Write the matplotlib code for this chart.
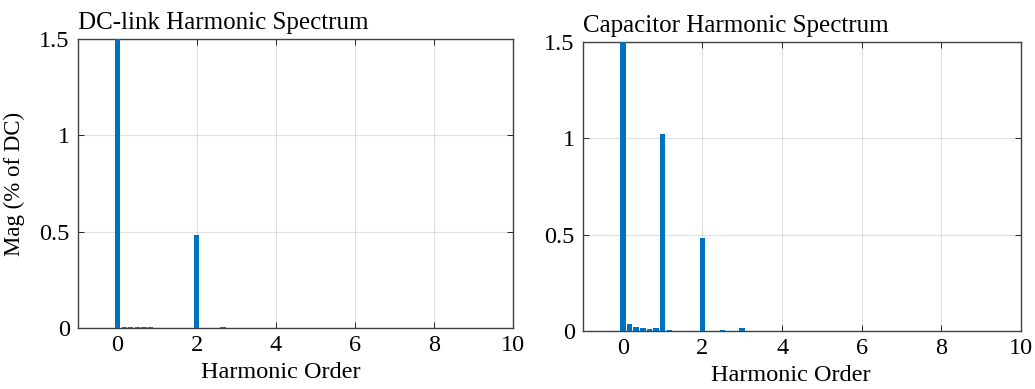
import matplotlib
matplotlib.use("Agg")
import matplotlib.pyplot as plt

# Harmonic orders and magnitudes (% of DC) for the DC-link current spectrum
dc_orders = [0.0, 0.17, 0.33, 0.5, 0.67, 0.83, 1.0, 1.33, 1.67, 2.0, 2.33, 2.67, 3.33, 4.0, 5.5, 7.5]
dc_mag = [100.0, 0.004, 0.003, 0.004, 0.007, 0.003, 0.002, 0.002, 0.002, 0.485, 0.002, 0.003, 0.001, 0.002, 0.001, 0.001]

# Harmonic orders and magnitudes (% of DC) for the capacitor current spectrum
cap_orders = [0.0, 0.17, 0.33, 0.5, 0.67, 0.83, 1.0, 1.17, 1.33, 1.67, 2.0, 2.17, 2.5, 2.67, 3.0, 3.17, 4.0, 5.5, 7.5]
cap_mag = [100.0, 0.035, 0.02, 0.015, 0.012, 0.015, 1.02, 0.004, 0.002, 0.002, 0.485, 0.002, 0.004, 0.002, 0.018, 0.002, 0.002, 0.001, 0.002]

x_ticks = [0, 2, 4, 6, 8, 10]
y_ticks = [0, 0.5, 1, 1.5]
y_tick_labels = ["0", "0.5", "1", "1.5"]

BAR_COLOR = "#0072BD"
FONT = "Liberation Serif"

W, H = 1035, 389
fig = plt.figure(figsize=(W / 100, H / 100), dpi=100)
plt.rcParams["font.family"] = FONT


def spectrum_axes(rect, orders, mags, title, ylabel=None, xlabel_shift=0.0):
    ax = fig.add_axes(rect)
    ax.bar(orders, mags, width=0.14, color=BAR_COLOR, linewidth=0, zorder=3)
    ax.set_xlim(-1, 10)
    ax.set_ylim(0, 1.5)
    ax.set_xticks(x_ticks)
    ax.set_yticks(y_ticks)
    ax.set_yticklabels(y_tick_labels)
    ax.grid(True, color="#000000", alpha=0.12, linewidth=0.8, zorder=0)
    ax.tick_params(direction="in", top=True, right=True, length=4,
                   width=0.7, color="#262626", labelsize=17.5)
    ax.tick_params(axis="x", pad=5)
    ax.tick_params(axis="y", pad=6)
    for s in ax.spines.values():
        s.set_color("#404040")
        s.set_linewidth(1.0)
    ax.set_title(title, loc="left", fontsize=18, pad=7, fontfamily=FONT)
    ax.set_xlabel("Harmonic Order", fontsize=17.5, fontfamily=FONT, va="top")
    ax.xaxis.set_label_coords(0.5 + xlabel_shift, -0.118)
    if ylabel:
        ax.set_ylabel(ylabel, fontsize=16.5, labelpad=10, fontfamily=FONT)
    return ax


spectrum_axes([78 / W, (H - 328) / H, 435 / W, 289 / H], dc_orders, dc_mag,
              "DC-link Harmonic Spectrum", ylabel="Mag (% of DC)", xlabel_shift=-0.035)
spectrum_axes([583 / W, (H - 331) / H, 438 / W, 289 / H], cap_orders, cap_mag,
              "Capacitor Harmonic Spectrum", xlabel_shift=-0.025)

fig.savefig("out.png", dpi=100)
